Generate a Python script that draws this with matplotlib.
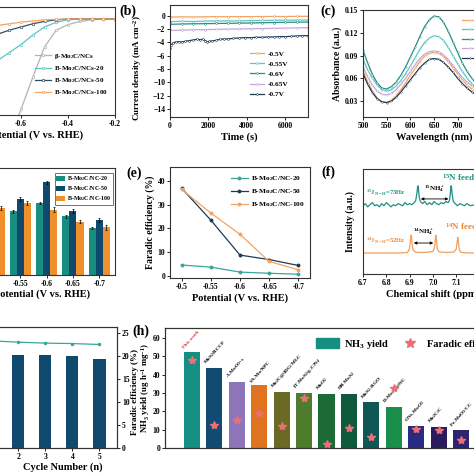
import matplotlib
matplotlib.use('Agg')
import matplotlib.pyplot as plt
from matplotlib.lines import Line2D
from matplotlib.patches import Patch

plt.rcParams.update({
    'font.family': ['Liberation Serif', 'DejaVu Serif'],
    'font.weight': 'bold',
    'axes.labelweight': 'bold',
    'mathtext.fontset': 'custom',
    'mathtext.rm': 'Liberation Serif:bold',
    'mathtext.bf': 'Liberation Serif:bold',
    'mathtext.it': 'Liberation Serif:bold:italic',
    'mathtext.default': 'bf',
    'font.size': 5.5,
    'axes.linewidth': 0.8,
    'axes.edgecolor': '#333333',
    'xtick.major.size': 2, 'ytick.major.size': 2,
    'xtick.major.width': 0.6, 'ytick.major.width': 0.6,
    'xtick.major.pad': 1.5, 'ytick.major.pad': 1.5,
    'xtick.labelsize': 5.5, 'ytick.labelsize': 5.5,
    'axes.labelsize': 7.5,
    'axes.labelpad': 2,
})

# ---------------- data ----------------
# (a) LSV
pot_a = [-0.80, -0.75, -0.70, -0.65, -0.60, -0.55, -0.50, -0.45, -0.40, -0.35, -0.30, -0.25, -0.20]
lsv_beta = [-25, -22, -19, -15, -11.3, -7.3, -3.5, -1.4, -0.7, -0.3, -0.1, 0.0, 0.0]
lsv_20 = [-9.0, -7.5, -5.2, -4.2, -3.2, -2.0, -1.0, -0.4, -0.1, 0.0, 0.0, 0.0, 0.0]
lsv_50 = [-3.5, -2.7, -1.9, -1.4, -1.0, -0.6, -0.3, -0.1, 0.0, 0.0, 0.0, 0.0, 0.0]
lsv_100 = [-1.5, -1.1, -0.8, -0.6, -0.4, -0.25, -0.1, -0.05, 0.0, 0.0, 0.0, 0.0, 0.0]
lsv_labels = [r'$\beta$-Mo$_2$C/NCs', 'B-Mo$_2$C/NCs-20', 'B-Mo$_2$C/NCs-50', 'B-Mo$_2$C/NCs-100']

# (b) chronoamperometry
t_flat = [0, 600, 1200, 1800, 2400, 3000, 3600, 4200, 4800, 5400, 6000, 6600, 7200]
i_05 = [-0.2, -0.18, -0.2, -0.17, -0.15, -0.16, -0.14, -0.15, -0.13, -0.12, -0.13, -0.1, -0.1]
i_055 = [-0.9, -0.85, -0.88, -0.82, -0.8, -0.78, -0.8, -0.74, -0.72, -0.7, -0.68, -0.66, -0.65]
i_06 = [-1.3, -1.25, -1.22, -1.2, -1.17, -1.15, -1.12, -1.1, -1.06, -1.03, -1.0, -0.98, -0.95]
i_065 = [-2.2, -2.18, -2.12, -2.1, -2.06, -2.02, -2.0, -1.96, -1.94, -1.9, -1.88, -1.84, -1.8]
t_07 = [0, 50, 150, 300, 450, 600, 800, 1000, 1200, 1400, 1550, 1700, 1850, 1950, 2050, 2200,
        2400, 2600, 2800, 3000, 3300, 3600, 3900, 4200, 4500, 4800, 5100, 5400, 5700, 6000,
        6300, 6600, 6900, 7200]
i_07 = [-4.8, -4.4, -4.1, -3.95, -3.9, -3.95, -3.85, -3.75, -3.65, -3.55, -3.6, -3.55, -3.75,
        -3.95, -3.85, -3.8, -3.7, -3.55, -3.5, -3.5, -3.4, -3.35, -3.3, -3.3, -3.25, -3.25,
        -3.2, -3.2, -3.15, -3.15, -3.1, -3.05, -3.0, -3.0]
volt_labels = ['-0.5V', '-0.55V', '-0.6V', '-0.65V', '-0.7V']

# (c) UV-vis
wl = [500, 510, 520, 530, 540, 550, 560, 570, 580, 590, 600, 610, 620, 630, 640, 650, 660,
      670, 680, 690, 700, 710, 720, 730, 740, 750, 760, 770, 780, 790, 800]
abs_05 = [0.070, 0.055, 0.043, 0.034, 0.029, 0.028, 0.031, 0.037, 0.045, 0.054, 0.064, 0.073,
          0.082, 0.089, 0.093, 0.094, 0.093, 0.089, 0.082, 0.074, 0.066, 0.058, 0.051, 0.046,
          0.041, 0.038, 0.036, 0.034, 0.033, 0.032, 0.032]
abs_055 = [0.085, 0.071, 0.060, 0.051, 0.045, 0.043, 0.045, 0.050, 0.057, 0.066, 0.076, 0.087,
           0.098, 0.107, 0.113, 0.116, 0.115, 0.110, 0.101, 0.090, 0.079, 0.069, 0.060, 0.053,
           0.047, 0.043, 0.040, 0.038, 0.037, 0.036, 0.035]
abs_06 = [0.097, 0.080, 0.065, 0.054, 0.047, 0.046, 0.049, 0.055, 0.064, 0.075, 0.088, 0.101,
          0.115, 0.128, 0.137, 0.142, 0.141, 0.134, 0.122, 0.108, 0.094, 0.080, 0.069, 0.060,
          0.052, 0.046, 0.042, 0.039, 0.037, 0.036, 0.035]
abs_065 = [0.075, 0.062, 0.051, 0.043, 0.039, 0.038, 0.040, 0.045, 0.052, 0.060, 0.069, 0.078,
           0.086, 0.092, 0.095, 0.096, 0.095, 0.091, 0.085, 0.077, 0.069, 0.061, 0.055, 0.050,
           0.046, 0.043, 0.041, 0.039, 0.038, 0.037, 0.036]
abs_07 = [0.066, 0.052, 0.041, 0.033, 0.029, 0.028, 0.030, 0.035, 0.042, 0.050, 0.058, 0.066,
          0.074, 0.080, 0.085, 0.086, 0.085, 0.081, 0.075, 0.068, 0.060, 0.053, 0.047, 0.042,
          0.038, 0.035, 0.033, 0.032, 0.031, 0.030, 0.030]

# (d) yield bars
pot_cats = ['-0.5', '-0.55', '-0.6', '-0.65', '-0.7']
yld_20 = [15.0, 19.0, 21.5, 17.5, 14.0]
yld_50 = [20.0, 22.7, 27.7, 19.0, 16.5]
yld_100 = [20.0, 21.5, 19.5, 16.0, 14.3]
err_20 = [0.5, 0.4, 0.4, 0.5, 0.3]
err_50 = [0.6, 0.6, 0.5, 0.6, 0.6]
err_100 = [0.5, 0.5, 0.8, 0.4, 0.7]
nc_labels = ['B-Mo$_2$C/NC-20', 'B-Mo$_2$C/NC-50', 'B-Mo$_2$C/NC-100']

# (e) FE
pot_e = [-0.5, -0.55, -0.6, -0.65, -0.7]
fe_20 = [4.5, 3.6, 1.5, 1.0, 0.6]
fe_50 = [37.0, 23.5, 8.7, 6.8, 4.3]
fe_100 = [36.5, 26.5, 17.5, 6.0, 2.5]

# (f) 1H NMR
ppm_15 = [6.700, 6.710, 6.720, 6.730, 6.740, 6.750, 6.760, 6.770, 6.780, 6.790, 6.800, 6.810,
          6.820, 6.830, 6.840, 6.850, 6.860, 6.870, 6.880, 6.890, 6.900, 6.910, 6.920, 6.926,
          6.931, 6.934, 6.936, 6.938, 6.941, 6.946, 6.955, 6.965, 6.975, 6.985, 6.995, 7.005,
          7.015, 7.025, 7.035, 7.045, 7.055, 7.065, 7.070, 7.074, 7.077, 7.079, 7.082, 7.087,
          7.095, 7.105, 7.115, 7.125, 7.135, 7.145, 7.160, 7.180, 7.200, 7.220, 7.240, 7.260,
          7.280, 7.300]
int_15 = [6.5, 6.7, 6.4, 6.6, 6.8, 6.5, 6.6, 6.4, 6.7, 6.5, 6.8, 6.6, 6.4, 6.6, 6.5, 6.7, 6.6,
          6.5, 6.8, 6.6, 6.7, 6.6, 6.8, 7.0, 7.7, 8.3, 8.4, 8.0, 7.3, 6.9, 6.7, 6.9, 6.6, 6.8,
          6.6, 6.9, 6.7, 6.6, 6.8, 6.7, 6.9, 6.8, 7.0, 7.6, 8.4, 8.3, 7.6, 6.9, 6.7, 6.5, 6.7,
          6.6, 6.5, 6.7, 6.5, 6.6, 6.4, 6.6, 6.5, 6.6, 6.5, 6.5]
ppm_14 = [6.700, 6.850, 6.890, 6.898, 6.902, 6.905, 6.907, 6.910, 6.914, 6.925, 6.950, 6.980,
          7.000, 7.007, 7.010, 7.012, 7.015, 7.018, 7.025, 7.060, 7.090, 7.100, 7.104, 7.106,
          7.109, 7.113, 7.120, 7.160, 7.300]
int_14 = [2.0, 2.0, 2.05, 2.3, 2.9, 3.6, 3.7, 3.0, 2.3, 2.08, 2.05, 2.08, 2.15, 2.6, 3.3, 3.7,
          3.2, 2.4, 2.1, 2.05, 2.1, 2.4, 3.2, 3.5, 3.0, 2.3, 2.05, 2.0, 2.0]

# (g) cycling
cycles = [1, 2, 3, 4, 5]
cyc_yield = [46.6, 46.3, 46.0, 45.5, 44.1]
cyc_fe = [23.3, 23.0, 22.8, 22.7, 22.5]

# (h) comparison
cmp_names = ['This work', 'MoS$_2$/BCCF', 'A-MoO$_{3-x}$', 'SA-Mo/NPC', 'Mo$_2$C@3DG/MLC',
             '1T-MoS$_2$/g-C$_3$N$_4$', 'MoO$_2$', 'DR MoS$_2$', 'MoS$_2$-RGO', 'D-Mo$_2$C@NC',
             'OVs-MoO$_3$', 'Mo$_2$C/C', 'Fe-MoO$_3$/CC']
cmp_yield = [52.4, 43.6, 36.0, 34.2, 30.5, 30.0, 29.6, 29.5, 24.9, 22.4, 12.2, 11.3, 9.6]
cmp_fe = [48.2, 12.7, 15.5, 19.1, 12.2, 27.3, 2.4, 10.9, 6.0, 32.7, 10.5, 10.0, 4.2]
cmp_colors = ['#148f82', '#114a72', '#8c76b9', '#e0731f', '#6a6a24', '#4c7c2c', '#1c6b36',
              '#0f5a3a', '#0f5656', '#1a8f4c', '#272b82', '#2c1b5c', '#2d2472']

# ---------------- figure ----------------
W = 474
fig = plt.figure(figsize=(4.74, 4.74), dpi=100)


def ax_px(l, t, r, b):
    return fig.add_axes([l / W, 1 - b / W, (r - l) / W, (b - t) / W])


C_OR = '#f5a35e'
C_CY = '#5cc6c2'
C_TE = '#2a8c84'
C_PU = '#c5a6d8'
C_NV = '#1f3a56'
C_GR = '#b3b3b3'

# (a)
ax = ax_px(-26, 7, 115, 115)
for y, c, lab in zip([lsv_beta, lsv_20, lsv_50, lsv_100], [C_GR, C_CY, '#2e4f66', C_OR], lsv_labels):
    ax.plot(pot_a, y, color=c, lw=0.9, marker='o', ms=1.8, mfc='white', mew=0.5, label=lab)
ax.set_xlim(-0.8, -0.2)
ax.set_ylim(-12, 1.5)
ax.set_xticks([-0.6, -0.4, -0.2])
ax.set_xticklabels(['-0.6', '-0.4', '-0.2'])
ax.set_yticklabels([])
ax.set_xlabel('Potential (V vs. RHE)')
ax.xaxis.set_label_coords(0.43, -0.14)
ax.legend(loc='upper left', bbox_to_anchor=(0.40, 0.63), frameon=False, fontsize=5.0,
          handlelength=2.3, labelspacing=0.45, borderpad=0.2, handletextpad=0.4)

# (b)
ax = ax_px(170, 5, 308, 117)
for t, y, c, lab in zip([t_flat, t_flat, t_flat, t_flat, t_07], [i_05, i_055, i_06, i_065, i_07],
                        [C_OR, C_CY, C_TE, C_PU, C_NV], volt_labels):
    ax.plot(t, y, color=c, lw=0.9, marker='o', ms=1.3, mfc='white', mew=0.4, label=lab)
ax.set_xlim(0, 7200)
ax.set_ylim(-15.2, 1.6)
ax.set_xticks([0, 2000, 4000, 6000])
ax.set_yticks([0, -2, -4, -6, -8, -10, -12, -14])
ax.set_xlabel('Time (s)')
ax.set_ylabel('Current density (mA cm$^{-2}$)', fontsize=6.5)
ax.yaxis.set_label_coords(-0.185, 0.44)
ax.legend(loc='upper left', bbox_to_anchor=(0.54, 0.64), frameon=False, fontsize=5.3,
          handlelength=2.0, labelspacing=0.55, borderpad=0.2, handletextpad=0.4)
fig.text(119 / W, 1 - 11 / W, '(b)', fontsize=10, fontweight='bold', va='center')

# (c)
ax = ax_px(363, 10, 505, 117)
for y, c, lab in zip([abs_05, abs_055, abs_06, abs_065, abs_07], [C_OR, C_CY, C_TE, C_PU, C_NV],
                     volt_labels):
    ax.plot(wl, y, color=c, lw=0.9, marker='o', ms=1.0, mfc='white', mew=0.3, label=lab)
ax.set_xlim(500, 800)
ax.set_ylim(0.009, 0.15)
ax.set_xticks([500, 550, 600, 650, 700, 750, 800])
ax.set_yticks([0.03, 0.06, 0.09, 0.12, 0.15])
ax.set_xlabel('Wavelength (nm)')
ax.set_ylabel('Absorbance (a.u.)', fontsize=7)
ax.legend(loc='upper left', bbox_to_anchor=(0.66, 0.98), frameon=False, fontsize=5.3,
          handlelength=2.2, labelspacing=0.45, borderpad=0.2, handletextpad=0.4)
fig.text(320 / W, 1 - 11 / W, '(c)', fontsize=10, fontweight='bold', va='center')

# (d)
ax = ax_px(-23, 168, 115, 275)
xs = list(range(len(pot_cats)))
bw = 0.27
ax.bar([x - bw for x in xs], yld_20, bw, color='#178f80', yerr=err_20,
       error_kw=dict(lw=0.5, capsize=1, capthick=0.5), label=nc_labels[0])
ax.bar(xs, yld_50, bw, color='#0f4a6e', yerr=err_50,
       error_kw=dict(lw=0.5, capsize=1, capthick=0.5), label=nc_labels[1])
ax.bar([x + bw for x in xs], yld_100, bw, color='#f0902c', yerr=err_100,
       error_kw=dict(lw=0.5, capsize=1, capthick=0.5), label=nc_labels[2])
ax.set_xlim(-0.65, 4.6)
ax.set_ylim(0, 32)
ax.set_xticks(xs)
ax.set_xticklabels(pot_cats)
ax.set_yticklabels([])
ax.set_xlabel('Potential (V vs. RHE)')
ax.xaxis.set_label_coords(0.47, -0.13)
leg = ax.legend(loc='upper right', bbox_to_anchor=(0.99, 0.96), frameon=True, fontsize=4.3,
                handlelength=1.5, handleheight=0.8, labelspacing=0.2, borderpad=0.25,
                handletextpad=0.35, fancybox=False, edgecolor='#333333', borderaxespad=0.1)
leg.get_frame().set_linewidth(0.6)

# (e)
ax = ax_px(170, 167, 310, 278)
for y, c, lab in zip([fe_20, fe_50, fe_100], ['#3aa59b', '#1f3a56', C_OR], nc_labels):
    ax.plot(pot_e, y, color=c, lw=0.9, marker='o', ms=1.8, label=lab)
ax.set_xlim(-0.48, -0.72)
ax.set_ylim(-1, 46)
ax.set_xticks(pot_e)
ax.set_xticklabels(['-0.5', '-0.55', '-0.6', '-0.65', '-0.7'])
ax.set_yticks([0, 10, 20, 30, 40])
ax.set_xlabel('Potential (V vs. RHE)')
ax.set_ylabel('Faradic efficiency (%)', fontsize=7)
ax.legend(loc='upper right', bbox_to_anchor=(1.0, 0.98), frameon=False, fontsize=5.3,
          handlelength=2.3, labelspacing=0.55, borderpad=0.2, handletextpad=0.4)
fig.text(126 / W, 1 - 173 / W, '(e)', fontsize=10, fontweight='bold', va='center')

# (f)
ax = ax_px(363, 169, 503, 274)
ax.plot(ppm_15, int_15, color='#1f8f82', lw=0.9)
ax.plot(ppm_14, int_14, color='#f0a060', lw=0.9)
ax.set_xlim(6.7, 7.3)
ax.set_ylim(0, 10)
ax.set_xticks([6.7, 6.8, 6.9, 7.0, 7.1, 7.2, 7.3])
ax.set_yticks([])
ax.set_xlabel('Chemical shift (ppm)')
ax.set_ylabel('Intensity (a.u.)', labelpad=6, fontsize=7)
ax.text(6.715, 7.7, '$^{15}$J$_{N-H}$=73Hz', color='#1f8f82', fontsize=4.8, va='center')
ax.text(7.007, 8.1, '$^{15}$NH$_4^+$', color='black', fontsize=5, ha='center', va='center')
ax.annotate('', xy=(6.936, 7.15), xytext=(7.078, 7.15),
            arrowprops=dict(arrowstyle='<|-|>', lw=0.6, color='black', mutation_scale=4))
ax.text(7.04, 9.2, '$^{15}$N feed', color='#1f8f82', fontsize=6.5, va='center')
ax.text(6.712, 3.2, '$^{14}$J$_{N-H}$=52Hz', color='#e8883a', fontsize=4.8, va='center')
ax.text(6.958, 4.0, '$^{14}$NH$_4^+$', color='black', fontsize=5, ha='center', va='center')
ax.annotate('', xy=(6.906, 2.95), xytext=(7.013, 2.95),
            arrowprops=dict(arrowstyle='<|-|>', lw=0.6, color='black', mutation_scale=4))
ax.text(7.05, 4.5, '$^{14}$N feed', color='#e8883a', fontsize=6.5, va='center')
fig.text(321 / W, 1 - 172 / W, '(f)', fontsize=10, fontweight='bold', va='center')

# (g)
ax = ax_px(-25, 327, 117, 448)
ax.bar(cycles, cyc_yield, 0.45, color='#0f4a6e')
ax.set_xlim(0.4, 5.65)
ax.set_ylim(0, 60)
ax.set_xticks(cycles)
ax.set_yticklabels([])
ax.set_xlabel('Cycle Number (n)')
ax.xaxis.set_label_coords(0.62, -0.12)
ax2 = ax.twinx()
ax2.plot(cycles, cyc_fe, color='#3aa59b', lw=0.9, marker='o', ms=1.5)
ax2.set_ylim(0, 26.3)
ax2.set_yticks([0, 5, 10, 15, 20, 25])
ax2.set_ylabel('Faradic efficiency (%)', fontsize=6.5)
ax2.yaxis.set_label_coords(1.097, 0.46)

# (h)
ax = ax_px(165, 328, 488, 448)
xh = list(range(len(cmp_names)))
ax.bar(xh, cmp_yield, 0.72, color=cmp_colors)
for x, v, n in zip(xh, cmp_yield, cmp_names):
    ax.text(x - 0.3, v + 1.0, n, rotation=48, rotation_mode='anchor', ha='left', va='bottom',
            fontsize=3.8, color='#e03030' if n == 'This work' else 'black')
ax.set_xlim(-1.2, 13.2)
ax.set_ylim(0, 65.5)
ax.set_xticks([])
ax.set_yticks([0, 10, 20, 30, 40, 50, 60])
ax.set_ylabel('NH$_3$ yield (ug h$^{-1}$ mg$^{-1}$)', fontsize=6.3)
ax.yaxis.set_label_coords(-0.040, 0.5)
axh2 = ax.twinx()
axh2.plot(xh, cmp_fe, ls='none', marker='*', ms=6, color='#ec6f78')
axh2.set_ylim(0, 65.5)
axh2.set_yticks([])
handles = [Patch(color='#148f82', label='NH$_3$ yield'),
           Line2D([], [], ls='none', marker='*', ms=7, color='#ec6f78', label='Faradic efficiency')]
ax.legend(handles=handles, loc='upper left', bbox_to_anchor=(0.445, 0.98), ncol=2,
          frameon=False, fontsize=7.5, handlelength=2.2, handleheight=1.0, columnspacing=0.9,
          handletextpad=0.5, borderpad=0.2)
fig.text(132 / W, 1 - 331 / W, '(h)', fontsize=10, fontweight='bold', va='center')

fig.savefig('out.png', dpi=100)
